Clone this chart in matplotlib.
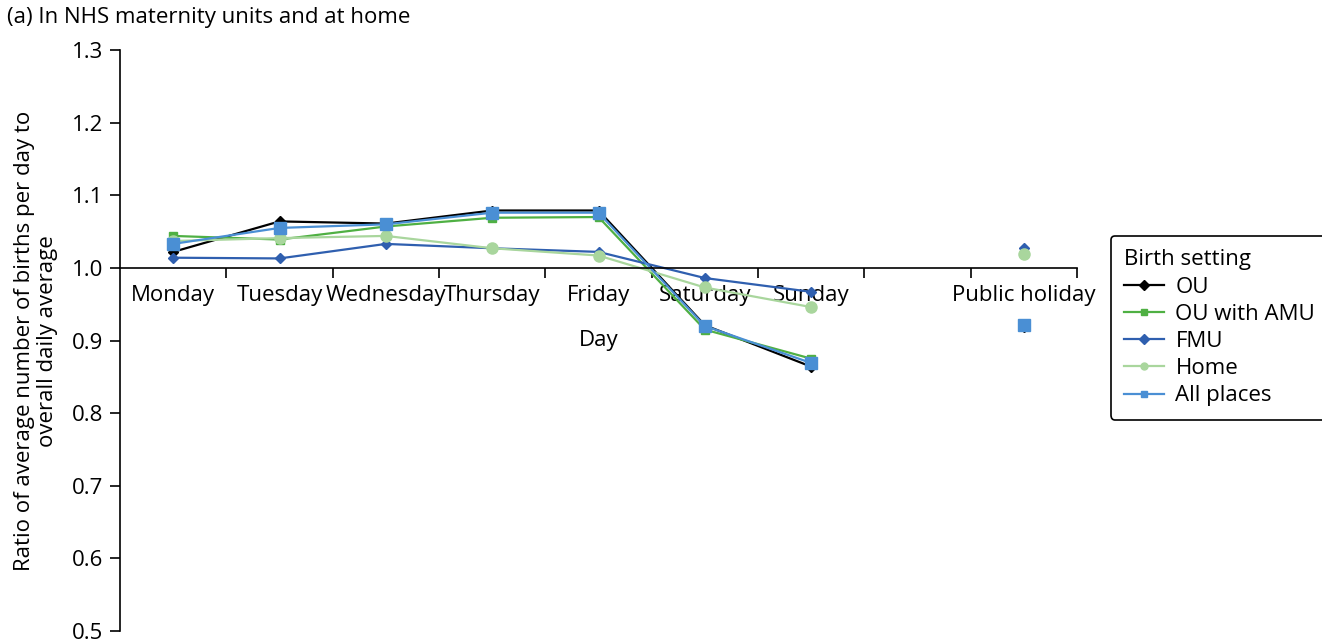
import numpy as np
import matplotlib
matplotlib.use("Agg")
from matplotlib import pyplot as plt
from matplotlib import transforms

plt.rcParams["font.family"] = ["Open Sans", "DejaVu Sans"]
FS = 16

days = ["Monday", "Tuesday", "Wednesday", "Thursday", "Friday",
        "Saturday", "Sunday", "", "Public holiday"]
nan = np.nan
ou = [1.022, 1.064, 1.061, 1.079, 1.079, 0.921, 0.864, nan, 0.919]
ou_amu = [1.044, 1.039, 1.057, 1.069, 1.070, 0.915, 0.875, nan, 0.920]
fmu = [1.014, 1.013, 1.033, 1.027, 1.022, 0.986, 0.967, nan, 1.028]
home = [1.037, 1.041, 1.044, 1.027, 1.017, 0.973, 0.946, nan, 1.019]
all_places = [1.033, 1.055, 1.060, 1.076, 1.076, 0.920, 0.869, nan, 0.921]

series = [
    ("OU", ou, "#000000", "D", 5.5),
    ("OU with AMU", ou_amu, "#4fb043", "s", 5.5),
    ("FMU", fmu, "#2f5faf", "D", 5.5),
    ("Home", home, "#a9d69d", "o", 8),
    ("All places", all_places, "#4a8fd4", "s", 8),
]

W, H = 1322, 643
fig = plt.figure(figsize=(W / 100, H / 100), dpi=100)
ax = fig.add_axes([120 / W, 1 - 631 / H, (1077 - 120) / W, (631 - 50) / H])

x = np.arange(len(days))
for name, vals, col, mk, ms in series:
    ax.plot(x, vals, color=col, marker=mk, markersize=ms, linewidth=1.6,
            label=name)

ax.set_xlim(-0.5, len(days) - 0.5)
ax.set_ylim(0.5, 1.3)
yt = np.arange(0.5, 1.31, 0.1)
ax.set_yticks(yt)
ax.set_yticklabels([f"{v:.1f}" for v in yt])

ax.spines["top"].set_visible(False)
ax.spines["right"].set_visible(False)
ax.spines["bottom"].set_position(("data", 1.0))
for s in ("left", "bottom"):
    ax.spines[s].set_linewidth(1.2)

ax.set_xticks(np.arange(0.5, len(days), 1.0))
ax.set_xticklabels([])
ax.set_xticks(x, minor=True)
ax.set_xticklabels(days, minor=True)
ax.tick_params(axis="x", which="major", direction="out", length=7, width=1.2)
ax.tick_params(axis="x", which="minor", length=0, pad=12, labelsize=FS)
ax.tick_params(axis="y", direction="out", length=7, width=1.2, labelsize=FS,
               pad=5)

blend = transforms.blended_transform_factory(ax.transAxes, ax.transData)
ax.text(0.5, 0.9, "Day", transform=blend, ha="center", va="center",
        fontsize=FS)

fig.text(36 / W, 1 - 341 / H,
         "Ratio of average number of births per day to\noverall daily average",
         rotation=90, ha="center", va="center", fontsize=FS,
         multialignment="center", linespacing=1.1)

fig.text(7 / W, 1 - 18 / H, "(a) In NHS maternity units and at home",
         ha="left", va="center", fontsize=FS)

leg = ax.legend(title="Birth setting", loc="upper left",
                bbox_to_anchor=(1111 / W, 1 - 236 / H),
                bbox_transform=fig.transFigure, fontsize=FS,
                title_fontsize=FS, frameon=True, fancybox=True,
                edgecolor="black", handlelength=1.8, handletextpad=0.5,
                labelspacing=0.28, borderpad=0.6, borderaxespad=0,
                alignment="left")
leg.get_frame().set_linewidth(1.2)
leg.get_frame().set_alpha(1)
for h in leg.get_lines():
    h.set_markersize(5)

fig.savefig("out.png", dpi=100)
